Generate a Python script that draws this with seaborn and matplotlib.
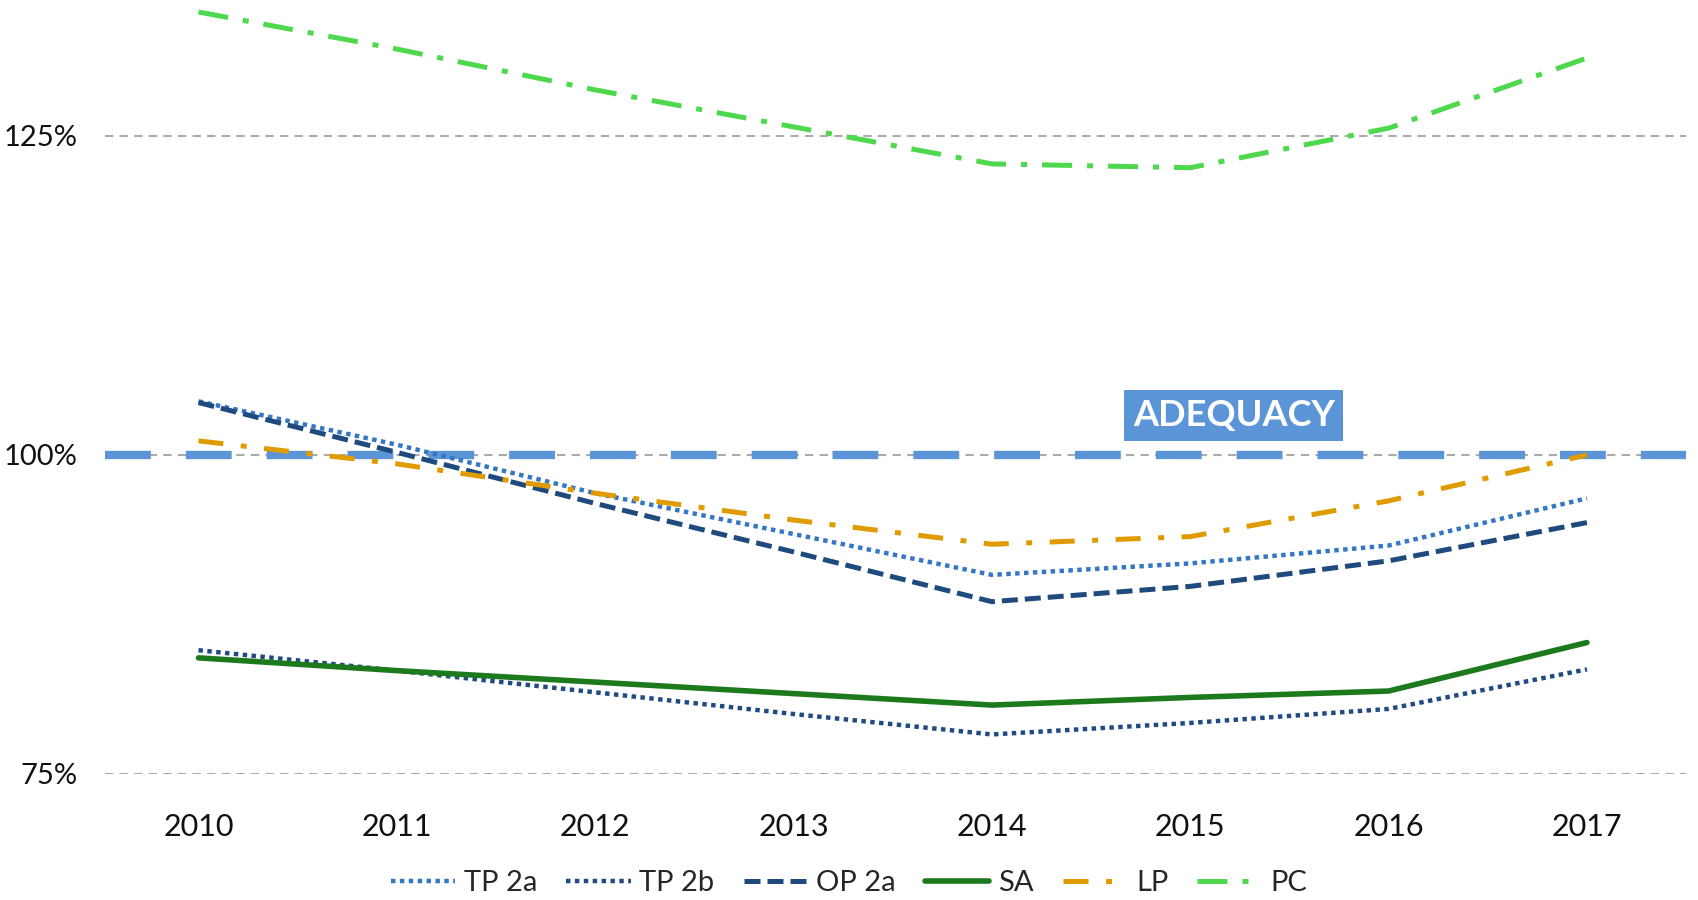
import pandas as pd
import matplotlib
matplotlib.use("Agg")
import matplotlib.pyplot as plt
import seaborn as sns

# data (ratios in %)
years = [2010, 2011, 2012, 2013, 2014, 2015, 2016, 2017]
tp_2a = [104.2, 100.8, 97.0, 93.8, 90.6, 91.5, 92.9, 96.6]
tp_2b = [84.7, 83.1, 81.4, 79.7, 78.1, 79.0, 80.1, 83.2]
op_2a = [104.1, 100.2, 96.2, 92.4, 88.5, 89.7, 91.7, 94.7]
sa = [84.1, 83.1, 82.2, 81.3, 80.4, 81.0, 81.5, 85.3]
lp = [101.1, 99.3, 97.0, 94.9, 93.0, 93.6, 96.4, 100.0]
pc = [134.7, 131.8, 128.6, 125.7, 122.8, 122.5, 125.6, 131.1]
y_ticks = [75, 100, 125]
adequacy_level = 100

series = {"TP 2a": tp_2a, "TP 2b": tp_2b, "OP 2a": op_2a,
          "SA": sa, "LP": lp, "PC": pc}
df = pd.DataFrame([(s, y, v) for s, vals in series.items()
                   for y, v in zip(years, vals)],
                  columns=["series", "year", "value"])

styles = {
    "TP 2a": dict(color="#3477C4", dashes=(1, 1.0), lw=3.2),
    "TP 2b": dict(color="#1F4A84", dashes=(1, 1.0), lw=3.2),
    "OP 2a": dict(color="#1F4A7E", dashes=(3.2, 1.4), lw=3.6),
    "SA": dict(color="#1C7A1C", dashes=None, lw=4.0),
    "LP": dict(color="#E09B00", dashes=(5, 3.5, 1.2, 3.5), lw=3.6),
    "PC": dict(color="#4DD84D", dashes=(6, 3, 1.2, 3), lw=3.6),
}

sns.set_theme(style="white")
plt.rcParams["font.family"] = ["Lato", "DejaVu Sans"]

fig = plt.figure(figsize=(16.98, 9), dpi=100)
ax = fig.add_axes([0.062, 0.14, 0.931, 0.858])

# gridlines
for t in y_ticks:
    ax.axhline(t, color="#ABABAB", lw=1.5, dashes=(4, 3), zorder=1)

# adequacy line
ax.axhline(adequacy_level, color="#5B95D8", lw=6, dashes=(5.5, 4.2),
           zorder=2)

for name, st in styles.items():
    sub = df[df["series"] == name]
    sns.lineplot(data=sub, x="year", y="value", ax=ax,
                 color=st["color"], lw=st["lw"], label=name, zorder=3)
    l = ax.get_lines()[-1]
    if st["dashes"] is not None:
        l.set_dashes(st["dashes"])
        l.set_dash_capstyle("butt")

ax.text(2015.22, 103.1, "ADEQUACY", color="white", fontsize=26,
        fontweight="bold", ha="center", va="center", zorder=5,
        bbox=dict(boxstyle="square,pad=0.24", fc="#5B95D8", ec="none"))

ax.set_xlim(2009.53, 2017.5)
ax.set_ylim(75, 135.5)
ax.set_xticks(years)
ax.set_xticklabels([str(y) for y in years])
ax.set_yticks(y_ticks)
ax.set_yticklabels([f"{t}%" for t in y_ticks])
ax.tick_params(axis="both", labelsize=22, length=0, colors="#111111")
ax.tick_params(axis="x", pad=28)
ax.tick_params(axis="y", pad=20, labelsize=21)
ax.set_xlabel("")
ax.set_ylabel("")
sns.despine(ax=ax, left=True, bottom=True)

handles, labels = ax.get_legend_handles_labels()
ax.get_legend().remove()
fig.legend(handles, labels, loc="center", bbox_to_anchor=(0.5, 0.019),
           ncol=6, frameon=False, fontsize=21, handlelength=2.2,
           handletextpad=0.3, columnspacing=1.0)

fig.savefig("out.png", dpi=100)
